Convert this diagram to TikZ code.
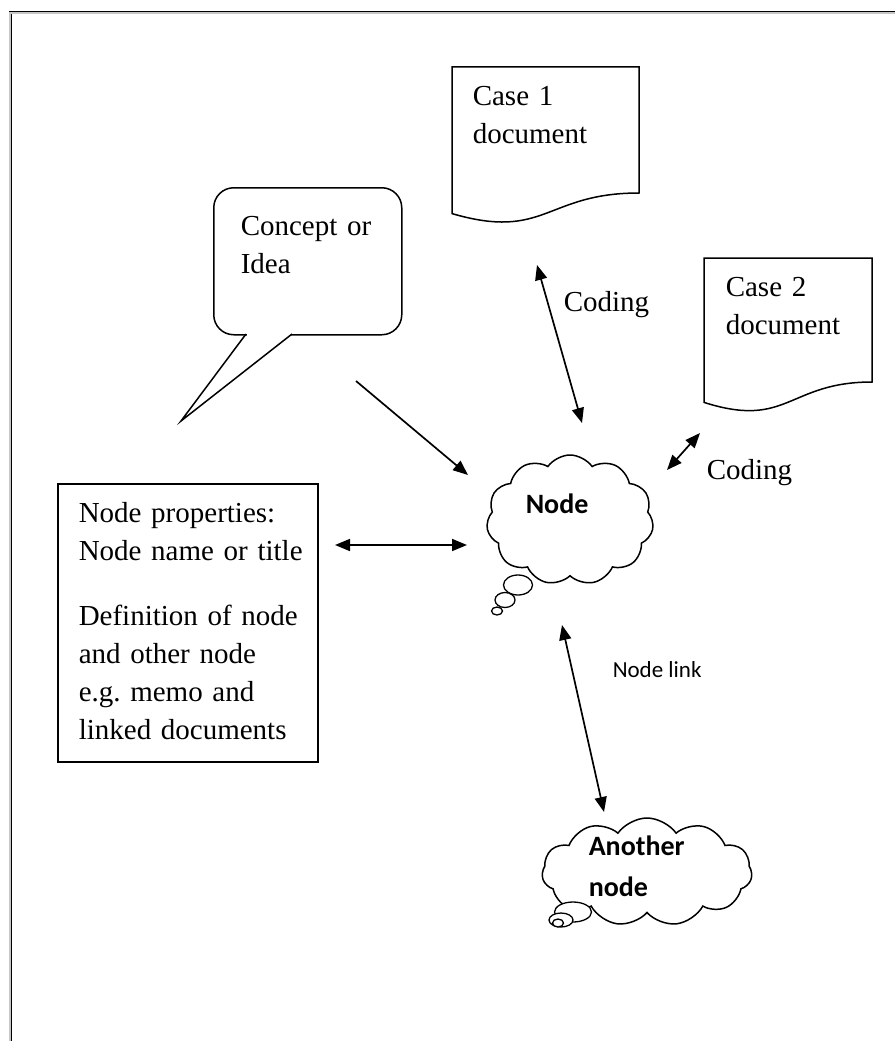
\documentclass[tikz,border=0pt]{standalone}
\usepackage{fontspec}
\setmainfont{Liberation Serif}
\newfontfamily\calibri{Carlito}
\usetikzlibrary{arrows.meta,shapes.symbols,shapes.geometric}
\begin{document}
\begin{tikzpicture}[x=1pt,y=-1pt,line width=1.5pt,
  txt/.style={font=\fontsize{29}{38}\selectfont\frenchspacing,inner sep=0pt,anchor=base west,text width=320pt,align=left},
  boldtxt/.style={font=\calibri\bfseries\fontsize{28}{41}\selectfont,inner sep=0pt,anchor=base west,text width=200pt,align=left},
  sanstxt/.style={font=\calibri\fontsize{23}{28}\selectfont,inner sep=0pt,anchor=base west},
  dbl/.style={line width=1.7pt,{Triangle[length=15pt,width=12pt]}-{Triangle[length=15pt,width=12pt]}},
  sgl/.style={line width=1.7pt,-{Triangle[length=15pt,width=12pt]}},
  cloudnode/.style={draw,cloud,cloud puffs=11,cloud puff arc=110,inner sep=0pt,fill=white},
  bubble/.style={draw,ellipse,inner sep=0pt,fill=white,line width=1.3pt},
  frame/.style={line width=0.9pt,double=gray!45,double distance=1.2pt}]
\useasboundingbox (0,0) rectangle (894,1041);
\fill[white] (0,0) rectangle (894,1041);
% outer frame
\draw[frame] (10,1045) -- (10,13) -- (898,13);

% Case 1 document
\draw (452,67) -- (639,67) -- (639,193) .. controls (545.5,193) and (545.5,240.9) .. (452,213.6) -- cycle;
\node[txt] (case1) at (472,105) {Case 1\\document};

% Case 2 document
\draw (704,258) -- (872,258) -- (872,382) .. controls (788,382) and (788,429.2) .. (704,402.4) -- cycle;
\node[txt] (case2) at (725,296) {Case 2\\document};

% Callout
\node[draw,rounded corners=20pt,minimum width=188pt,minimum height=147pt,anchor=north west,inner sep=0pt] (concept) at (213,187) {};
\fill[white] (247,330) rectangle (291,337);
\draw[line join=miter] (246,334) -- (181,421) -- (292,334);
\node[txt] (concepttxt) at (240,235) {Concept or\\Idea};

% Node properties box
\node[draw,minimum width=260pt,minimum height=278pt,anchor=north west,inner sep=0pt] (props) at (57,483) {};
\node[txt] (propstxt) at (78,522) {Node properties:\\Node name or title\\[27pt]Definition of node\\and other node\\e.g. memo and\\linked documents};

% Node cloud
\node[cloudnode,minimum width=167pt,minimum height=130pt] (node) at (570,520) {};
\node[bubble,minimum width=29pt,minimum height=20pt] (nb1) at (518,585) {};
\node[bubble,minimum width=20pt,minimum height=15pt] (nb2) at (505,600) {};
\node[bubble,minimum width=11pt,minimum height=8pt] (nb3) at (497,611) {};
\node[boldtxt] (nodetxt) at (525,513) {Node};

% Another node cloud
\node[cloudnode,minimum width=210pt,minimum height=108pt] (another) at (647,872) {};
\node[bubble,minimum width=37pt,minimum height=20pt] (ab1) at (573,912) {};
\node[bubble,minimum width=24pt,minimum height=14pt] (ab2) at (561,920) {};
\node[bubble,minimum width=11pt,minimum height=8pt] (ab3) at (558,923) {};
\node[boldtxt] (anothertxt) at (588,855) {Another\\node};

% connector end points
\coordinate (c1a) at (537,265);
\coordinate (c1b) at (582,423);
\coordinate (c2a) at (700,433);
\coordinate (c2b) at (667,470);
\coordinate (ca) at (356,381);
\coordinate (cb) at (468,475);
\coordinate (pa) at (335,545);
\coordinate (pb) at (467,545);
\coordinate (la) at (562,625);
\coordinate (lb) at (604,812);

\draw[dbl] (c1a) -- (c1b);
\draw[dbl] (c2a) -- (c2b);
\draw[sgl] (ca) -- (cb);
\draw[dbl] (pa) -- (pb);
\draw[dbl] (la) -- (lb);

% labels
\node[txt,text width=120pt] (coding1) at (563,311) {Coding};
\node[txt,text width=120pt] (coding2) at (706,479) {Coding};
\node[sanstxt] (linklbl) at (612,677) {Node link};
\end{tikzpicture}
\end{document}
